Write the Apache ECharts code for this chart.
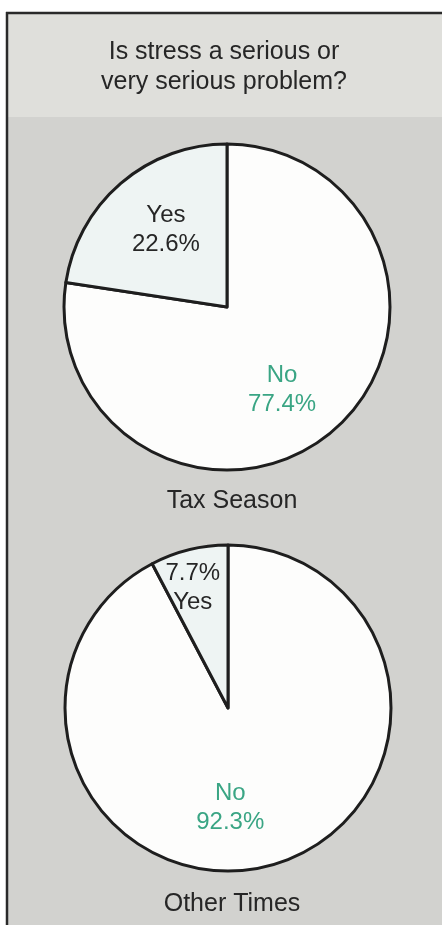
<!DOCTYPE html>
<html>
<head>
<meta charset="utf-8">
<script src="https://cdn.jsdelivr.net/npm/echarts@6/dist/echarts.min.js"></script>
<style>
html,body{margin:0;padding:0;background:#ffffff;}
#chart{width:442px;height:925px;}
</style>
</head>
<body>
<div id="chart"></div>
<script>
// ---- data ----
var titleLines = ['Is stress a serious or', 'very serious problem?'];
var categories = ['No', 'Yes'];
var taxSeason = [77.4, 22.6];
var otherTimes = [92.3, 7.7];
var pieNames = ['Tax Season', 'Other Times'];

// ---- styling ----
var FONT = '"Liberation Sans", Arial, Helvetica, sans-serif';
var TEAL = '#3aa584';
var DARK = '#262626';
var fills = { 'No': '#fdfdfc', 'Yes': '#eef4f3' };
var labelColors = { 'No': TEAL, 'Yes': DARK };
var labelShift = [
  { 'No': [0, 19], 'Yes': [-6, -13] },
  { 'No': [-18, 18], 'Yes': [-15, -38] }
];

function makeData(values, yesPercentFirst) {
  return categories.map(function (c, i) {
    return {
      name: c,
      value: values[i],
      itemStyle: { color: fills[c] },
      label: {
        color: labelColors[c],
        formatter: (c === 'Yes' && yesPercentFirst) ? '{c}%\n{b}' : '{b}\n{c}%'
      }
    };
  });
}

function makePie(idx, values, center, yesPercentFirst) {
  return {
    type: 'pie',
    center: center,
    radius: [0, 163],
    startAngle: 90,
    clockwise: true,
    silent: true,
    animation: false,
    avoidLabelOverlap: false,
    itemStyle: { borderColor: '#1e1e1e', borderWidth: 3 },
    label: {
      show: true,
      position: 'inside',
      fontFamily: FONT,
      fontSize: 24,
      lineHeight: 29,
      align: 'center'
    },
    labelLine: { show: false },
    emphasis: { disabled: true },
    labelLayout: function (p) {
      var s = labelShift[idx][categories[p.dataIndex]];
      return { dx: s[0], dy: s[1] };
    },
    data: makeData(values, yesPercentFirst)
  };
}

var chart = echarts.init(document.getElementById('chart'), null, { renderer: 'canvas' });
chart.setOption({
  backgroundColor: '#ffffff',
  animation: false,
  graphic: [
    { type: 'rect', z: -10, shape: { x: 7, y: 13, width: 435, height: 104 }, style: { fill: '#dfdfdb' } },
    { type: 'rect', z: -10, shape: { x: 7, y: 117, width: 435, height: 808 }, style: { fill: '#d2d2cf' } },
    { type: 'line', z: -5, shape: { x1: 6, y1: 13, x2: 442, y2: 13 }, style: { stroke: '#2a2a2a', lineWidth: 2.5 } },
    { type: 'line', z: -5, shape: { x1: 7, y1: 12, x2: 7, y2: 925 }, style: { stroke: '#2a2a2a', lineWidth: 2.5 } }
  ],
  title: [
    {
      text: titleLines.join('\n'),
      left: 224, top: 37, textAlign: 'center', padding: 0,
      textStyle: { fontFamily: FONT, fontSize: 25, fontWeight: 'normal', color: DARK, lineHeight: 30 }
    },
    {
      text: pieNames[0],
      left: 232, top: 486, textAlign: 'center', padding: 0,
      textStyle: { fontFamily: FONT, fontSize: 25, fontWeight: 'normal', color: DARK, lineHeight: 30 }
    },
    {
      text: pieNames[1],
      left: 232, top: 889, textAlign: 'center', padding: 0,
      textStyle: { fontFamily: FONT, fontSize: 25, fontWeight: 'normal', color: DARK, lineHeight: 30 }
    }
  ],
  series: [
    makePie(0, taxSeason, [227, 307], false),
    makePie(1, otherTimes, [228, 708], true)
  ]
});
</script>
</body>
</html>
